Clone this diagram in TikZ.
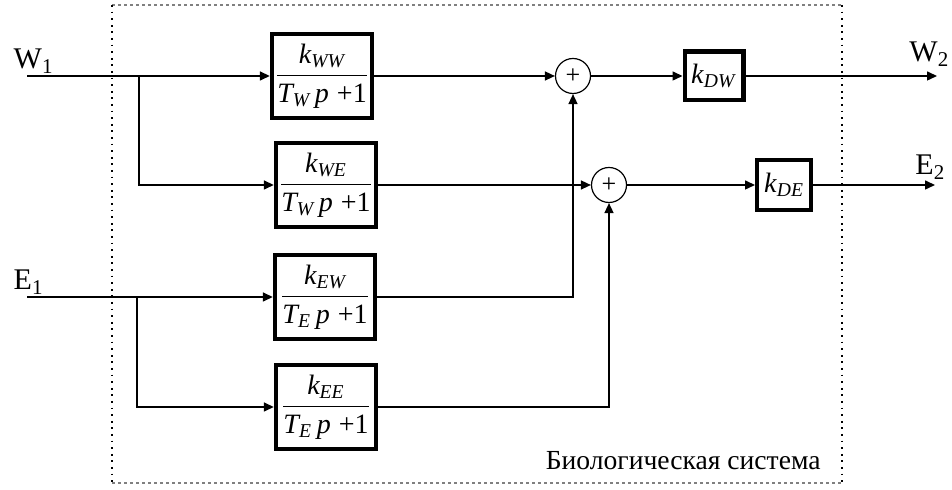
\documentclass[tikz,border=0pt]{standalone}
\usepackage{amsmath}
\usepackage{fontspec}
\setmainfont{Liberation Serif}
\usepackage{tikz}
\usetikzlibrary{arrows.meta,positioning}

% transfer function of one channel
\newcommand{\tfgain}[2]{$\dfrac{\textit{k}_{\textit{#1}}}{\textit{T}_{\textit{#2}}\,\textit{p}\;\text{+1}}$}

\tikzset{
  gainbox/.style={draw, line width=2.2pt, minimum width=50pt, minimum height=42pt,
    inner sep=0pt, font=\fontsize{14}{16}\selectfont},
  coefbox/.style={draw, line width=2.2pt, inner sep=0pt, font=\fontsize{14}{16}\selectfont},
  sumnode/.style={draw, circle, line width=0.6pt, minimum size=17.5pt, inner sep=0pt,
    font=\fontsize{13}{14}\selectfont},
  signal/.style={font=\fontsize{15}{18}\selectfont, inner sep=0pt},
  frameside/.style={line width=0.9pt, dash pattern=on 0.9pt off 2.4pt},
  frametop/.style={gray, line width=0.6pt, dash pattern=on 1.5pt off 1.5pt}
}

\begin{document}
\begin{tikzpicture}[x=0.5pt, y=-0.5pt, line width=0.75pt, >={Triangle[length=5pt,width=4.5pt]}]
    \useasboundingbox (0,0) rectangle (952,490);

    % Rows of the four channels
    \def\rowWW{76}
    \def\rowWE{185}
    \def\rowEW{297}
    \def\rowEE{407}

    % Border of the system
    \draw[frametop] (112,5) -- (842,5);
    \draw[frametop] (112,483) -- (842,483);
    \draw[frameside] (112,5) -- (112,483);
    \draw[frameside] (842,5) -- (842,483);
    \node[anchor=base east, font=\fontsize{13.8}{16}\selectfont] (sysname) at (828,470) {Биологическая система};

    % Channel blocks
    \node[gainbox] (bWW) at (322,\rowWW) {\tfgain{WW}{W}};
    \node[gainbox] (bWE) at (326,\rowWE) {\tfgain{WE}{W}};
    \node[gainbox] (bEW) at (325,\rowEW) {\tfgain{EW}{E}};
    \node[gainbox] (bEE) at (326,\rowEE) {\tfgain{EE}{E}};

    % Summing points
    \node[sumnode] (sW) at (573,\rowWW) {+};
    \node[sumnode] (sE) at (609,\rowWE) {+};

    % Output coefficients
    \node[coefbox, minimum width=29.3pt, minimum height=24.3pt] (kDW) at (714,\rowWW) {\textit{k}\textsubscript{\textit{DW}}};
    \node[coefbox, minimum width=26.8pt, minimum height=24.8pt] (kDE) at (784,\rowWE) {\textit{k}\textsubscript{\textit{DE}}};

    % Inputs and outputs
    \coordinate (inW) at (27,\rowWW);
    \coordinate (inE) at (27,\rowEW);
    \coordinate (splitW) at (139,\rowWW);
    \coordinate (splitE) at (137,\rowEW);
    \coordinate (outW) at (937,\rowWW);
    \coordinate (outE) at (935,\rowWE);
    \node[signal, anchor=base west] (W1) at (13,69) {W\textsubscript{1}};
    \node[signal, anchor=base west] (E1) at (13,290) {E\textsubscript{1}};
    \node[signal, anchor=base east] (W2) at (950,62) {W\textsubscript{2}};
    \node[signal, anchor=base east] (E2) at (946,175) {E\textsubscript{2}};

    % Input branches
    \draw[->] (inW) -- (bWW.west);
    \draw[->] (splitW) |- (bWE.west);
    \draw[->] (inE) -- (bEW.west);
    \draw[->] (splitE) |- (bEE.west);

    % Into the summing points
    \draw[->] (bWW.east) -- (sW.west);
    \draw[->] (bWE.east) -- (sE.west);
    \draw[->] (bEW.east) -| (sW.south);
    \draw[->] (bEE.east) -| (sE.south);

    % To the outputs
    \draw[->] (sW.east) -- (kDW.west);
    \draw[->] (sE.east) -- (kDE.west);
    \draw[->] (kDW.east) -- (outW);
    \draw[->] (kDE.east) -- (outE);
\end{tikzpicture}
\end{document}
